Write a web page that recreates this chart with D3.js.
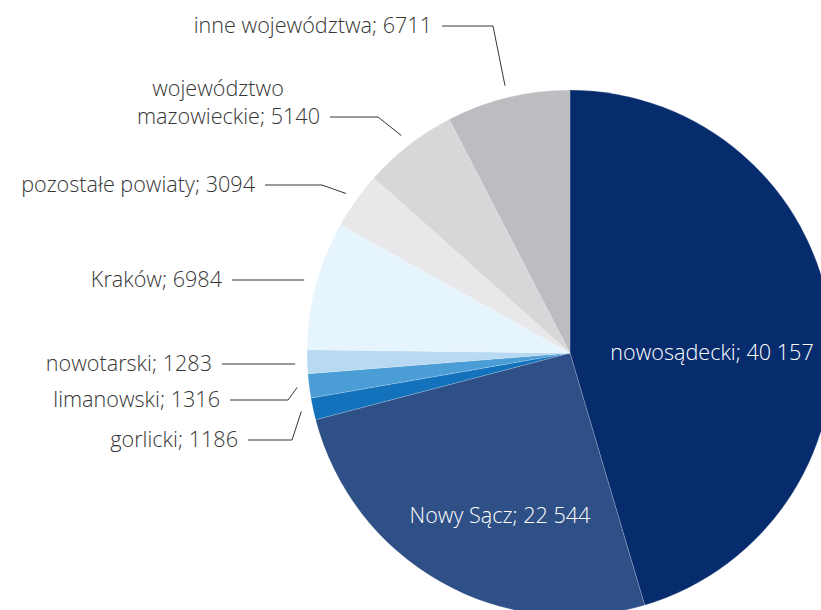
<!DOCTYPE html>
<html>
<head>
<meta charset="utf-8">
<script src="https://cdn.jsdelivr.net/npm/d3@7"></script>
<style>
  html, body { margin: 0; padding: 0; background: #ffffff; }
  svg { display: block; }
  text { font-family: "Open Sans", "Noto Sans", sans-serif; font-weight: 300; }
</style>
</head>
<body>
<svg id="chart" width="821" height="610"></svg>
<script>
// Slices, clockwise from 12 o'clock
const categories = ["nowosądecki", "Nowy Sącz", "gorlicki", "limanowski", "nowotarski",
                    "Kraków", "pozostałe powiaty", "województwo mazowieckie", "inne województwa"];
const values = [40157, 22544, 1186, 1316, 1283, 6984, 3094, 5140, 6711];
const valueLabels = ["40 157", "22 544", "1186", "1316", "1283", "6984", "3094", "5140", "6711"];
const colors = ["#072c6e", "#2f5086", "#1372bb", "#4b9dd5", "#b8d9f2",
                "#e6f4fd", "#e8e8ea", "#d6d7d9", "#bcbdc1"];

const W = 821, H = 610;
const cx = 570, cy = 353, R = 263;
const fontSize = 21.6;
const ink = "#363636";

const svg = d3.select("#chart");
const g = svg.append("g").attr("transform", `translate(${cx},${cy})`);

const data = categories.map((c, i) => ({ name: c, value: values[i], label: valueLabels[i], color: colors[i] }));

const pie = d3.pie().value(d => d.value).sort(null).startAngle(0).endAngle(2 * Math.PI);
const arcs = pie(data);
const arc = d3.arc().innerRadius(0).outerRadius(R);

g.selectAll("path.slice")
  .data(arcs)
  .join("path")
  .attr("class", "slice")
  .attr("d", arc)
  .attr("fill", d => d.data.color)
  .attr("stroke", "rgba(255,255,255,0.35)")
  .attr("stroke-width", 0.5);

// Point on the slice's mid-angle just outside the rim, where each leader line ends
const leaderRadius = R + 12;
function rimPoint(a) {
  const m = (a.startAngle + a.endAngle) / 2;
  return [cx + leaderRadius * Math.sin(m), cy - leaderRadius * Math.cos(m)];
}

// Labels drawn inside the two largest slices
const insideLayout = {
  "nowosądecki": { x: 712, y: 352 },
  "Nowy Sącz": { x: 500, y: 515 }
};

// Outside labels: right edge of text, text middle line, and elbow x of leader
const outsideLayout = {
  "gorlicki":                  { right: 238, y: 439, elbow: 292 },
  "limanowski":                { right: 220, y: 399, elbow: 288 },
  "nowotarski":                { right: 212, y: 363, elbow: null },
  "Kraków":                    { right: 222, y: 279, elbow: null },
  "pozostałe powiaty":         { right: 255, y: 184, elbow: 322 },
  "województwo mazowieckie":   { right: 320, y: 116, elbow: 378, wrap: ["województwo", "mazowieckie"], firstX: 218, firstY: 88 },
  "inne województwa":          { right: 432, y: 25,  elbow: 493 }
};

const labels = svg.append("g");
const leaders = svg.append("g").attr("fill", "none").attr("stroke", ink).attr("stroke-width", 1);

arcs.forEach(a => {
  const name = a.data.name;
  const text = name + "; " + a.data.label;
  if (insideLayout[name]) {
    const p = insideLayout[name];
    labels.append("text")
      .attr("x", p.x).attr("y", p.y).attr("dy", "0.35em")
      .attr("text-anchor", "middle")
      .attr("font-size", fontSize)
      .attr("fill", "#ffffff")
      .text(text);
    return;
  }
  const p = outsideLayout[name];
  if (p.wrap) {
    labels.append("text")
      .attr("x", p.firstX).attr("y", p.firstY).attr("dy", "0.35em")
      .attr("text-anchor", "middle")
      .attr("font-size", fontSize).attr("fill", ink)
      .text(p.wrap[0]);
    labels.append("text")
      .attr("x", p.right).attr("y", p.y).attr("dy", "0.35em")
      .attr("text-anchor", "end")
      .attr("font-size", fontSize).attr("fill", ink)
      .text(p.wrap[1] + "; " + a.data.label);
  } else {
    labels.append("text")
      .attr("x", p.right).attr("y", p.y).attr("dy", "0.35em")
      .attr("text-anchor", "end")
      .attr("font-size", fontSize).attr("fill", ink)
      .text(text);
  }
  const end = rimPoint(a);
  const pts = [[p.right + 10, p.y + 1]];
  if (p.elbow !== null) pts.push([p.elbow, p.y + 1]);
  pts.push(p.elbow === null ? [end[0], p.y + 1] : end);
  leaders.append("path").attr("d", d3.line()(pts));
});
</script>
</body>
</html>
